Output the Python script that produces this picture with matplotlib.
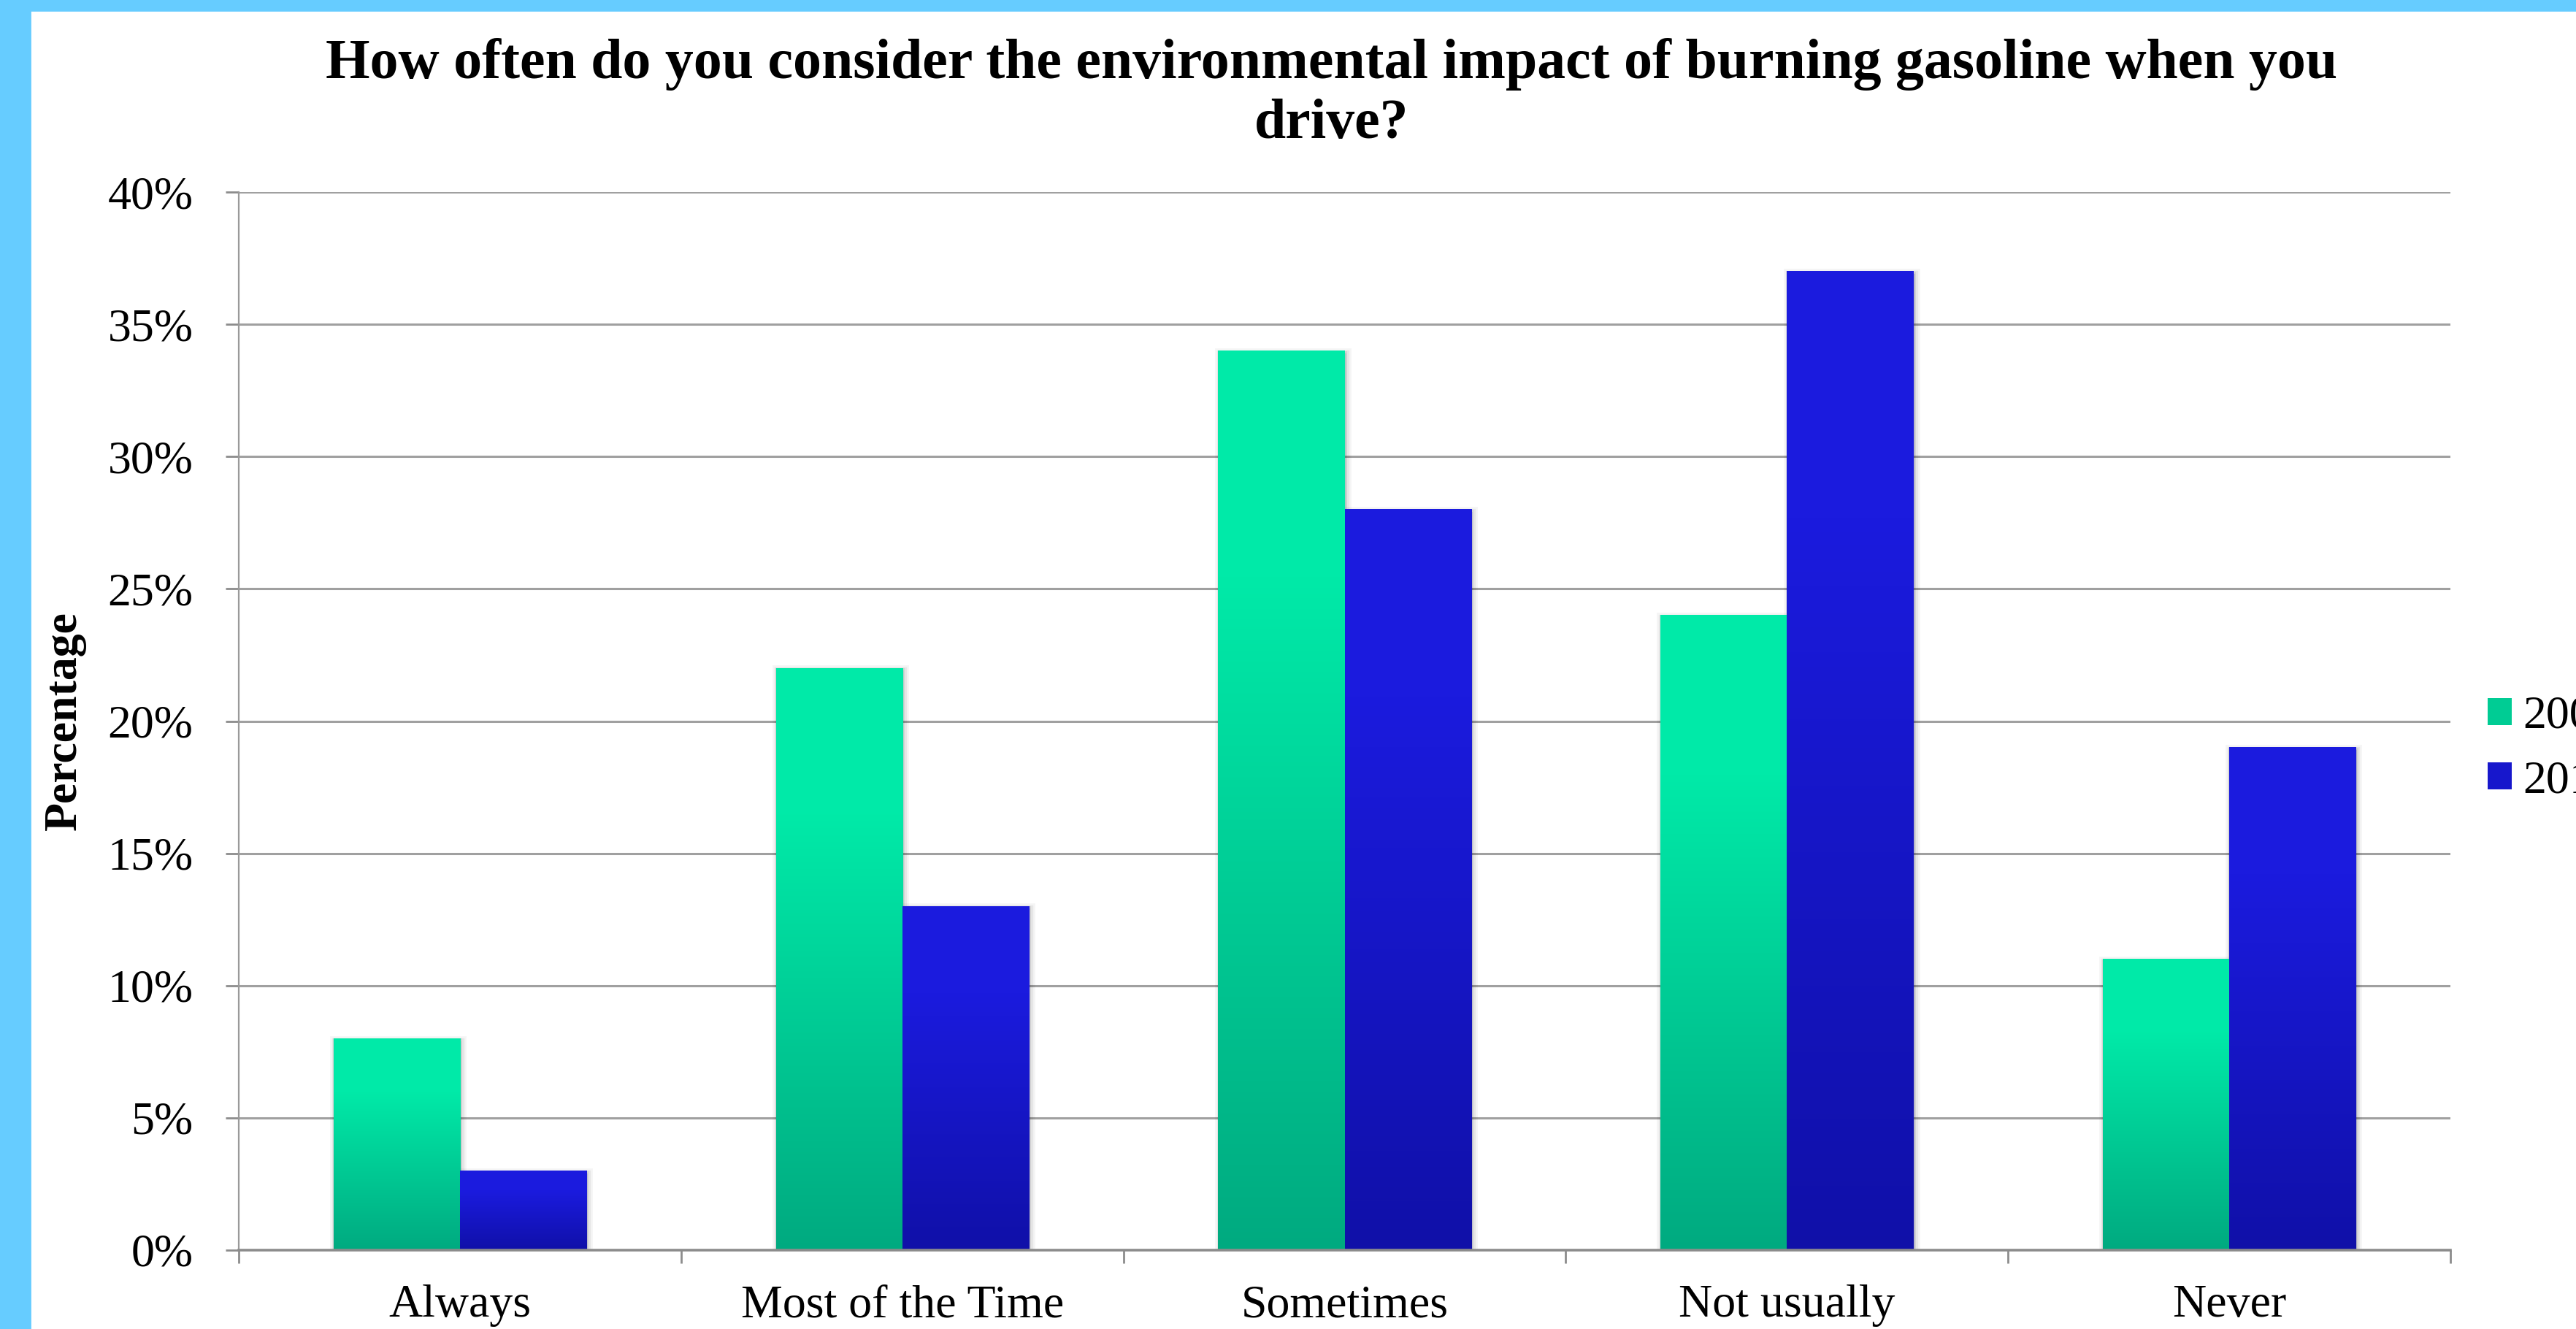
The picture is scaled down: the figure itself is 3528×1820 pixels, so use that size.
import numpy as np
import matplotlib
matplotlib.use("Agg")
import matplotlib.pyplot as plt
import matplotlib.patheffects as pe
from matplotlib.patches import Rectangle, Patch
from matplotlib.ticker import FuncFormatter, MultipleLocator, FixedLocator

# Survey responses (share of respondents)
categories = ["Always", "Most of the Time", "Sometimes", "Not usually", "Never"]
years = ["2008", "2012"]
share_first = [0.08, 0.22, 0.34, 0.24, 0.11]
share_second = [0.03, 0.13, 0.28, 0.37, 0.19]

# top / bottom colours of the bar gradients
green_top, green_bottom = (0.0, 0.918, 0.659), (0.0, 0.667, 0.502)
blue_top, blue_bottom = (0.106, 0.106, 0.871), (0.063, 0.063, 0.659)

W, H, DPI = 3528, 1820, 200
plt.rcParams["font.family"] = ["Liberation Serif", "DejaVu Serif"]

fig = plt.figure(figsize=(W / DPI, H / DPI), dpi=DPI)
fig.patch.set_facecolor("white")

# light blue page frame
frame = "#66CCFF"
fig.patches.append(Rectangle((0, 0), 41 / W, 1, transform=fig.transFigure,
                             color=frame, zorder=0))
fig.patches.append(Rectangle((0, 1 - 14 / H), 1, 14 / H, transform=fig.transFigure,
                             color=frame, zorder=0))

ax = fig.add_axes([327 / W, 1 - 1712 / H, (3356 - 327) / W, (1712 - 263) / H])
ax.set_facecolor("none")

x = np.arange(len(categories))
bw = 1 / 3.5  # gap width 150%


def gradient(top, bottom, n=256):
    t = np.linspace(0, 1, n)
    # hold the light tone near the top, then darken towards the base
    t = np.clip((t - 0.25) / 0.75, 0, 1)
    top, bottom = np.array(top), np.array(bottom)
    return (top[None, :] * (1 - t[:, None]) + bottom[None, :] * t[:, None])[:, None, :]


shadow = [pe.Stroke(offset=(0.8, -1.2), linewidth=5, foreground="k", alpha=0.04),
          pe.Stroke(offset=(0.8, -1.2), linewidth=3, foreground="k", alpha=0.06),
          pe.Stroke(offset=(0.5, -0.8), linewidth=1.5, foreground="k", alpha=0.08),
          pe.Normal()]

for vals, off, (ctop, cbot) in [(share_first, -bw / 2, (green_top, green_bottom)),
                                (share_second, bw / 2, (blue_top, blue_bottom))]:
    bars = ax.bar(x + off, vals, width=bw, color=cbot, linewidth=0, zorder=3)
    for b in bars:
        b.set_path_effects(shadow)
        x0, w, h = b.get_x(), b.get_width(), b.get_height()
        ax.imshow(gradient(ctop, cbot), extent=[x0, x0 + w, 0, h],
                  aspect="auto", interpolation="bilinear", zorder=4)

ax.set_xlim(-0.5, len(categories) - 0.5)
ax.set_ylim(0, 0.40)

# y axis
ax.yaxis.set_major_locator(MultipleLocator(0.05))
ax.yaxis.set_major_formatter(FuncFormatter(lambda v, p: f"{v * 100:.0f}%"))
ax.grid(axis="y", color="#A0A0A0", linewidth=1.1, zorder=1)
ax.set_axisbelow(True)

# x axis: labels centred, ticks between categories
ax.set_xticks(x)
ax.set_xticklabels(categories)
ax.xaxis.set_minor_locator(FixedLocator(np.arange(len(categories) + 1) - 0.5))
ax.tick_params(axis="x", which="major", length=0, pad=17, labelsize=23)
ax.tick_params(axis="x", which="minor", length=6.5, width=1.0, color="#8C8C8C",
               direction="out")
ax.tick_params(axis="y", length=6.5, width=1.0, color="#8C8C8C", direction="out",
               pad=16, labelsize=23)

for side in ["top", "right"]:
    ax.spines[side].set_visible(False)
ax.spines["left"].set_color("#9A9A9A")
ax.spines["left"].set_linewidth(0.8)
ax.spines["bottom"].set_color("#8C8C8C")
ax.spines["bottom"].set_linewidth(1.3)
ax.spines["bottom"].set_zorder(5)

ax.set_ylabel("Percentage", fontsize=23, fontweight="bold", labelpad=14)
ax.yaxis.set_label_coords(-(327 - 118) / (3356 - 327), 0.5)

# two-line title
fig.text(0.517, 1 - 107 / H,
         "How often do you consider the environmental impact of burning gasoline when you",
         ha="center", va="baseline", fontsize=28, fontweight="bold")
fig.text(0.517, 1 - 189 / H, "drive?", ha="center", va="baseline",
         fontsize=28, fontweight="bold")

handles = [Patch(facecolor=(0.0, 0.80, 0.58)), Patch(facecolor=(0.09, 0.09, 0.80))]
fig.legend(handles, years, loc="center left",
           bbox_to_anchor=(3407 / W, 1 - 1026 / H), frameon=False,
           fontsize=23, handlelength=0.52, handleheight=0.52,
           handletextpad=0.24, labelspacing=0.47, borderpad=0, borderaxespad=0)

fig.savefig("out.png", dpi=DPI)
